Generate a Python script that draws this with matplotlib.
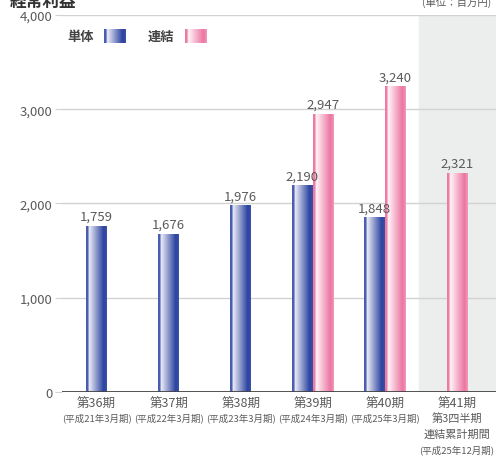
import numpy as np
import matplotlib.pyplot as plt
from matplotlib.colors import LinearSegmentedColormap

plt.rcParams['font.family'] = ['Noto Sans CJK JP', 'DejaVu Sans']

# 経常利益 (百万円)
period_names = ['第36期', '第37期', '第38期', '第39期', '第40期', '第41期']
period_notes = [['(平成21年3月期)'], ['(平成22年3月期)'], ['(平成23年3月期)'],
                ['(平成24年3月期)'], ['(平成25年3月期)'],
                ['第3四半期', '連結累計期間', '(平成25年12月期)']]
tandoku = [1759, 1676, 1976, 2190, 1848, None]
renketsu = [None, None, None, 2947, 3240, 2321]

blue_cmap = LinearSegmentedColormap.from_list('blue_grad', [
    (0.0, '#4a5cae'), (0.09, '#4a5cae'), (0.14, '#eeeef7'),
    (0.85, '#2b44a0'), (1.0, '#3b51a8')])
pink_cmap = LinearSegmentedColormap.from_list('pink_grad', [
    (0.0, '#ec7aa2'), (0.08, '#ec7aa2'), (0.15, '#fff5f9'),
    (0.85, '#ec74a0'), (1.0, '#f299b9')])
grad = np.linspace(0, 1, 64).reshape(1, -1)

text_color = '#5a5a5a'

fig = plt.figure(figsize=(4.96, 4.6), dpi=100)
ax = fig.add_axes([0.125, 0.146, 0.875, 0.819])

x = np.arange(len(period_names))
width = 0.29
ax.set_xlim(-0.48, 5.54)
ax.set_ylim(0, 4000)

# shaded area for the current period
ax.axvspan(4.47, 5.54, color='#eceded', zorder=0)

for v in [1000, 2000, 3000, 4000]:
    ax.axhline(v, color='#d2d2d2', lw=1, zorder=1)
ax.axhline(0, color='#444444', lw=1.3, zorder=4)


def gradient_bar(xc, h, cmap):
    ax.imshow(grad, cmap=cmap, extent=[xc - width / 2, xc + width / 2, 0, h],
              aspect='auto', zorder=3, interpolation='bilinear')
    ax.text(xc, h + 35, f'{h:,}', ha='center', va='bottom', fontsize=9.5,
            color=text_color, zorder=5)


for i in x:
    t, r = tandoku[i], renketsu[i]
    if t is not None and r is not None:
        gradient_bar(i - width / 2, t, blue_cmap)
        gradient_bar(i + width / 2, r, pink_cmap)
    elif t is not None:
        gradient_bar(i, t, blue_cmap)
    elif r is not None:
        gradient_bar(i, r, pink_cmap)

# category labels under the axis, one line at a time
ax.set_xticks([])
for i in x:
    ax.annotate(period_names[i], xy=(i, 0), xycoords=('data', 'axes fraction'),
                xytext=(0, -8.6), textcoords='offset points', ha='center',
                va='center', fontsize=9, color=text_color, annotation_clip=False)
    for k, note in enumerate(period_notes[i]):
        size = 6.8 if note.startswith('(') else 8
        ax.annotate(note, xy=(i, 0), xycoords=('data', 'axes fraction'),
                    xytext=(0, -18.7 - 11.2 * k), textcoords='offset points',
                    ha='center', va='center', fontsize=size, color=text_color,
                    annotation_clip=False)

ax.set_yticks([0, 1000, 2000, 3000, 4000])
ax.set_yticklabels(['0', '1,000', '2,000', '3,000', '4,000'], fontsize=9.5, color=text_color)
ax.tick_params(axis='y', length=5, color='#d2d2d2', pad=2)
for s in ax.spines.values():
    s.set_visible(False)

# legend
fig.text(0.135, 0.919, '単体', fontsize=9.5, color='#444444', va='center',
         fontweight='bold')
fig.text(0.298, 0.919, '連結', fontsize=9.5, color='#444444', va='center',
         fontweight='bold')
for left, cmap in [(0.210, blue_cmap), (0.373, pink_cmap)]:
    lax = fig.add_axes([left, 0.905, 0.043, 0.03])
    lax.imshow(grad, cmap=cmap, aspect='auto', interpolation='bilinear')
    lax.axis('off')

# title and unit
fig.text(0.02, 0.995, '経常利益', fontsize=12, color='#333333', va='center',
         fontweight='bold')
fig.text(0.99, 0.995, '(単位：百万円)', fontsize=7.5, color=text_color, ha='right', va='center')

fig.savefig('out.png', dpi=100)
